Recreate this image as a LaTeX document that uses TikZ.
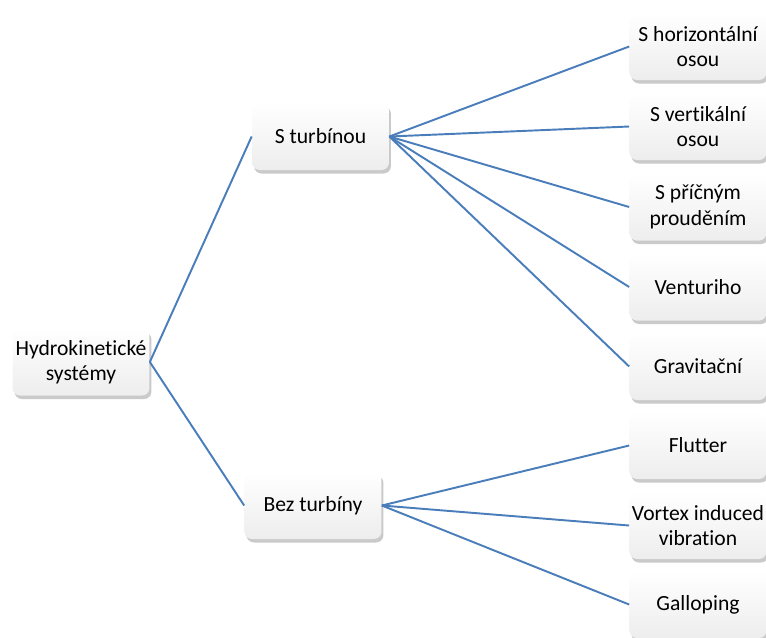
\documentclass[tikz,border=0pt]{standalone}
\usepackage{fontspec}
\setmainfont{Carlito}[Ligatures=NoCommon]
\usetikzlibrary{shadows}
\definecolor{linkblue}{HTML}{4A7EBB}
\begin{document}
\begin{tikzpicture}[x=0.02cm,y=-0.02cm,
	box/.style={rounded corners=0.15cm, top color=white, bottom color=gray!14,
		minimum width=2.74cm, minimum height=1.34cm, inner sep=1pt, align=center,
		font=\fontsize{12.3}{14.5}\selectfont,
		drop shadow={shadow xshift=0.04cm, shadow yshift=-0.07cm, opacity=0.35, fill=gray!80!black}},
	link/.style={draw=linkblue, line width=1.1pt}]
	\useasboundingbox (0,0) rectangle (766,637);
	% Wurzel
	\node [box] (root) at (81,362) {Hydrokinetické\\systémy};
	% mittlere Ebene
	\node [box] (turb) at (320.5,136.5) {S turbínou};
	\node [box] (bez) at (313,505.5) {Bez turbíny};
	% rechte Spalte, mit Turbine
	\node [box] (horiz) at (698,46.5) {S horizontální\\osou};
	\node [box] (vert) at (698,126.5) {S vertikální\\osou};
	\node [box] (pricny) at (698,207) {S příčným\\prouděním};
	\node [box] (venturi) at (698,287) {Venturiho};
	\node [box] (grav) at (698,366.5) {Gravitační};
	% rechte Spalte, ohne Turbine
	\node [box] (flutter) at (698,445.5) {Flutter};
	\node [box] (vortex) at (698,525.5) {Vortex induced\\vibration};
	\node [box] (gallop) at (698,604.5) {Galloping};
	% Verbindungen
	\draw [link] (root.east) -- (turb.west);
	\draw [link] (root.east) -- (bez.west);
	\foreach \n in {horiz,vert,pricny,venturi,grav} {
		\draw [link] (turb.east) -- (\n.west);
	}
	\foreach \n in {flutter,vortex,gallop} {
		\draw [link] (bez.east) -- (\n.west);
	}
\end{tikzpicture}
\end{document}
